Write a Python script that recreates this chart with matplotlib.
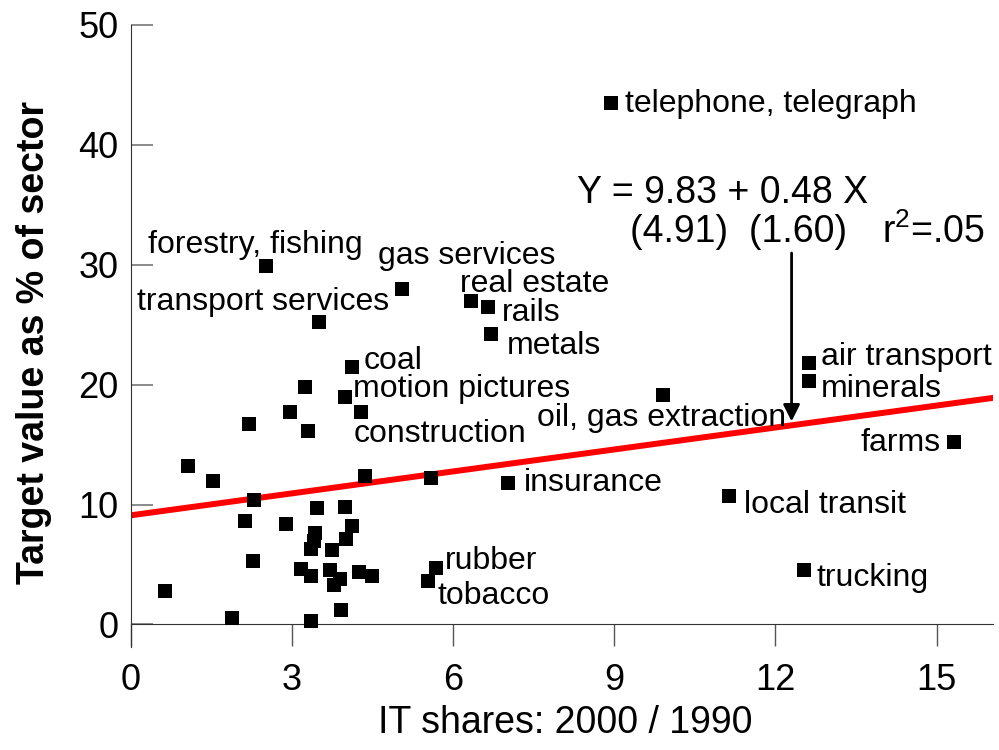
import matplotlib.pyplot as plt
import numpy as np

plt.rcParams['font.family'] = ['Liberation Sans', 'DejaVu Sans']
plt.rcParams['mathtext.fontset'] = 'custom'
plt.rcParams['mathtext.rm'] = 'Liberation Sans'
plt.rcParams['mathtext.it'] = 'Liberation Sans'

# labelled sectors: (IT share ratio, target value %)
labels = ['telephone, telegraph', 'forestry, fishing', 'gas services', 'real estate',
          'transport services', 'rails', 'metals', 'coal', 'motion pictures',
          'construction', 'oil, gas extraction', 'air transport', 'minerals',
          'farms', 'insurance', 'local transit', 'trucking', 'rubber', 'tobacco']
lab_x = [8.94, 2.52, 5.05, 6.33, 3.51, 6.64, 6.70, 4.12, 3.98, 4.29,
         9.91, 12.62, 12.62, 15.32, 7.03, 11.13, 12.54, 5.68, 5.53]
lab_y = [43.5, 29.9, 28.0, 27.0, 25.2, 26.5, 24.2, 21.5, 19.0, 17.75,
         19.1, 21.8, 20.3, 15.2, 11.8, 10.7, 4.5, 4.7, 3.6]
# where each label text sits
txt_x = [9.20, 0.32, 4.60, 6.12, 0.11, 6.90, 7.00, 4.34, 4.14, 4.14,
         7.57, 12.84, 12.84, 15.08, 7.31, 11.41, 12.76, 5.84, 5.71]
txt_y = [43.4, 31.6, 30.75, 28.35, 26.9, 26.0, 23.2, 22.0, 19.6, 15.9,
         17.2, 22.3, 19.6, 15.1, 11.8, 10.0, 3.85, 5.25, 2.4]

# unlabelled sectors
other_x = [3.24, 2.96, 2.20, 3.30, 1.06, 1.53, 4.36, 5.59, 2.29, 3.46, 3.98,
           2.12, 2.88, 4.11, 3.43, 3.40, 3.35, 4.00, 3.75, 2.27, 3.16, 3.35,
           3.70, 3.90, 3.78, 4.24, 4.48, 0.64, 3.92, 1.89, 3.35]
other_y = [19.8, 17.7, 16.75, 16.1, 13.25, 12.0, 12.4, 12.2, 10.4, 9.7, 9.8,
           8.65, 8.4, 8.2, 7.65, 7.0, 6.3, 7.1, 6.2, 5.3, 4.65, 4.0,
           4.55, 3.75, 3.25, 4.4, 4.0, 2.8, 1.2, 0.5, 0.3]

# fitted line as drawn
line_intercept = 9.1
line_slope = 0.61

fig = plt.figure(figsize=(9.99, 7.5), dpi=100)
ax = fig.add_axes([0.131, 0.137, 0.863, 0.830])

ax.scatter(other_x, other_y, marker='s', s=90, color='black', zorder=3, linewidths=0)
ax.scatter(lab_x, lab_y, marker='s', s=90, color='black', zorder=3, linewidths=0)

xs = np.array([0, 16.05])
ax.plot(xs, line_intercept + line_slope * xs, color='red', lw=4.3, zorder=2)

for name, tx, ty in zip(labels, txt_x, txt_y):
    ha = 'right' if name == 'farms' else 'left'
    ax.text(tx, ty, name, fontsize=23, ha=ha, va='center')

ax.text(8.30, 36.0, 'Y = 9.83 + 0.48 X', fontsize=27, ha='left', va='center')
ax.text(9.30, 32.7, '(4.91)  (1.60)', fontsize=27, ha='left', va='center')
ax.text(13.99, 32.7, r'r$^2$=.05', fontsize=27, ha='left', va='center')
ax.annotate('', xy=(12.30, 16.7), xytext=(12.30, 31.2),
            arrowprops=dict(arrowstyle='-|>', color='black', lw=2, mutation_scale=25))

ax.set_xlim(0, 16.05)
ax.set_ylim(-1.9, 50)
ax.set_xticks([0, 3, 6, 9, 12, 15])
ax.set_yticks([0, 10, 20, 30, 40, 50])

ax.spines['top'].set_visible(False)
ax.spines['right'].set_visible(False)
ax.spines['bottom'].set_position(('data', 0))
ax.spines['bottom'].set_color('#333333')
ax.spines['left'].set_color('#333333')

ax.tick_params(axis='y', direction='in', length=16, width=1.2, color='#777777',
               labelsize=26, pad=9)
ax.tick_params(axis='x', direction='out', length=16, width=1, color='#555555',
               labelsize=26, pad=12)

ax.set_xlabel('IT shares: 2000 / 1990', fontsize=27)
ax.set_ylabel('Target value as % of sector', fontsize=27, fontweight='bold')
ax.xaxis.set_label_coords(0.504, -0.092)
ax.yaxis.set_label_coords(-0.092, 0.49)

fig.savefig('out.png', dpi=100)
